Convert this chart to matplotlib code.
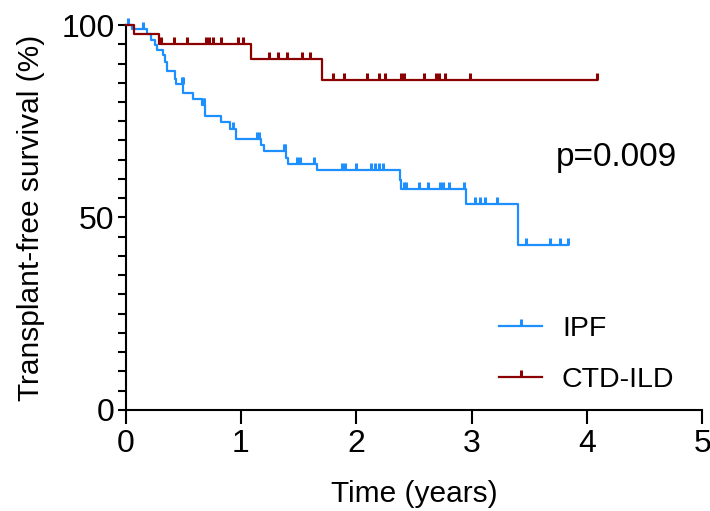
import numpy as np
import matplotlib
matplotlib.use("Agg")
import matplotlib.pyplot as plt
from matplotlib.path import Path
from matplotlib.lines import Line2D
from matplotlib.ticker import MultipleLocator

plt.rcParams['font.family'] = ['Liberation Sans', 'DejaVu Sans']

# ---- data ----
ipf_times = [0, 0.055, 0.185, 0.22, 0.255, 0.27, 0.325, 0.34, 0.36, 0.43, 0.44, 0.50,
             0.585, 0.66, 0.685, 0.825, 0.905, 0.955, 1.175, 1.20, 1.39, 1.41, 1.66,
             2.375, 2.39, 2.955, 3.40]
ipf_surv = [100, 98.9, 97.6, 96.2, 94.9, 93.5, 92.1, 90.5, 88.0, 86.1, 84.8, 82.3,
            80.7, 79.2, 76.4, 74.9, 73.1, 70.3, 68.8, 67.3, 65.4, 64.0, 62.2,
            59.7, 57.3, 53.5, 42.9]
ipf_end = 3.84
ipf_censor = [0.02, 0.15, 0.485, 0.495, 0.67, 0.68, 0.93, 1.14, 1.16, 1.375, 1.385,
              1.49, 1.51, 1.635, 1.875, 1.90, 2.00, 2.13, 2.16, 2.20, 2.23,
              2.41, 2.43, 2.54, 2.62, 2.73, 2.75, 2.80, 2.93,
              3.03, 3.075, 3.12, 3.22, 3.475, 3.68, 3.765, 3.84]

ctd_times = [0, 0.07, 0.29, 1.09, 1.70]
ctd_surv = [100, 97.6, 95.2, 91.3, 85.7]
ctd_end = 4.09
ctd_censor = [0.31, 0.42, 0.53, 0.70, 0.72, 0.76, 0.83, 0.97, 1.02, 1.24, 1.32, 1.40,
              1.53, 1.60, 1.80, 1.89, 2.09, 2.20, 2.25, 2.39, 2.41, 2.59, 2.69, 2.72,
              2.77, 2.99, 4.09]

series_names = ["IPF", "CTD-ILD"]
x_ticks = [0, 1, 2, 3, 4, 5]
y_ticks = [0, 50, 100]
p_text = "p=0.009"

blue = "#1E8FFF"
red = "#8B0000"

tick_marker = Path([(0, 0), (0, 1)])

fig = plt.figure(figsize=(7.1, 5.11), dpi=100)
ax = fig.add_axes([0.177, 0.198, 0.812, 0.753])

def draw(times, surv, end, censor, color):
    xs = list(times) + [end]
    ys = list(surv) + [surv[-1]]
    ax.step(xs, ys, where='post', color=color, lw=1.6, clip_on=False, zorder=3)
    t_arr = np.array(times)
    s_arr = np.array(surv)
    idx = np.searchsorted(t_arr, np.array(censor), side='right') - 1
    ax.plot(censor, s_arr[idx], linestyle='none', marker=tick_marker, markersize=10,
            markeredgewidth=2.2, color=color, clip_on=False, zorder=3)

draw(ipf_times, ipf_surv, ipf_end, ipf_censor, blue)
draw(ctd_times, ctd_surv, ctd_end, ctd_censor, red)

ax.set_xlim(0, 5)
ax.set_ylim(0, 100)
ax.set_xticks(x_ticks)
ax.set_yticks(y_ticks)
ax.yaxis.set_minor_locator(MultipleLocator(5))
for s in ['top', 'right']:
    ax.spines[s].set_visible(False)
for s in ['left', 'bottom']:
    ax.spines[s].set_linewidth(1.5)
ax.tick_params(axis='y', which='both', direction='out', length=6, width=1.5,
               labelsize=23, color='black', pad=2)
ax.tick_params(axis='x', which='both', direction='out', length=10, width=1.5,
               labelsize=23, color='black', pad=4)
ax.set_xlabel("Time (years)", fontsize=21.5, labelpad=15)
ax.set_ylabel("Transplant-free survival (%)", fontsize=21.5, labelpad=12)

ax.text(3.735, 65.5, p_text, fontsize=24, va='center', ha='left')

handles = [Line2D([], [], color=blue, lw=1.6, marker=tick_marker, markersize=10,
                  markeredgewidth=2.2),
           Line2D([], [], color=red, lw=1.6, marker=tick_marker, markersize=10,
                  markeredgewidth=2.2)]
ax.legend(handles, series_names, loc='lower left', bbox_to_anchor=(0.648, 0.045),
          frameon=False, fontsize=20.5, handlelength=1.5, handletextpad=0.7,
          labelspacing=0.85, numpoints=1, borderpad=0, borderaxespad=0)

fig.savefig("out.png", dpi=100)
